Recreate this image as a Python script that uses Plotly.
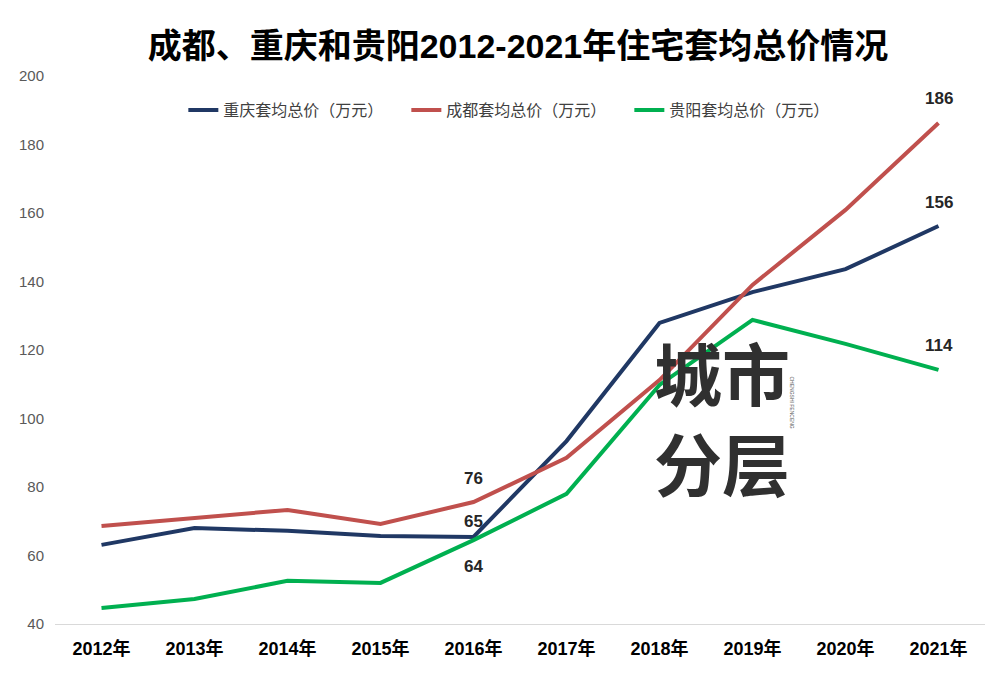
import plotly.graph_objects as go

# 数据
years = ["2012年", "2013年", "2014年", "2015年", "2016年",
         "2017年", "2018年", "2019年", "2020年", "2021年"]
chongqing = [63.1, 68.0, 67.2, 65.7, 65.4, 93.4, 127.9, 136.9, 143.6, 156.2]
chengdu = [68.6, 71.0, 73.3, 69.2, 75.6, 88.5, 111.2, 139.0, 160.9, 186.3]
guiyang = [44.7, 47.3, 52.6, 52.0, 64.5, 78.0, 109.8, 128.8, 121.8, 114.2]

series = [
    ("重庆套均总价（万元）", chongqing, "#203864"),
    ("成都套均总价（万元）", chengdu, "#C0504D"),
    ("贵阳套均总价（万元）", guiyang, "#00B050"),
]

FONT = "Liberation Sans, Noto Sans CJK SC, sans-serif"

fig = go.Figure()
for nome, vals, cor in series:
    fig.add_trace(go.Scatter(
        x=years, y=vals,
        mode="lines",
        name=nome,
        line=dict(color=cor, width=4),
    ))

# 数据标签（2016年与2021年）
label_idx = [4, 9]
shifts = {"重庆套均总价（万元）": {4: 16, 9: 24},
          "成都套均总价（万元）": {4: 24, 9: 24},
          "贵阳套均总价（万元）": {4: -26, 9: 24}}
for nome, vals, cor in series:
    for i in label_idx:
        fig.add_annotation(
            x=years[i], y=vals[i],
            text=f"{round(vals[i]):d}",
            showarrow=False,
            yshift=shifts[nome][i],
            font=dict(family=FONT, size=17, color="#262626", weight="bold"),
        )

# 水印
for txt, yy in [("城市", 0.460), ("分层", 0.296)]:
    fig.add_annotation(xref="paper", yref="paper", x=0.717, y=yy,
                       xanchor="center", yanchor="middle",
                       text=txt, showarrow=False,
                       font=dict(family="Noto Sans CJK SC", size=68,
                                 color="#303030", weight="bold"))
fig.add_annotation(xref="paper", yref="paper", x=0.792, y=0.405,
                   xanchor="center", yanchor="middle",
                   text="CHENGSHI FENCENG", showarrow=False, textangle=90,
                   font=dict(family=FONT, size=5, color="#555555"))

fig.update_layout(
    title=dict(
        text="成都、重庆和贵阳2012-2021年住宅套均总价情况",
        x=0.51, xanchor="center", y=0.944, yanchor="middle",
        font=dict(family=FONT, size=34, color="#000000", weight="bold"),
    ),
    width=1000, height=681,
    # 页面 body 有 8px 默认外边距，这里补偿
    margin=dict(l=47, r=23, t=68, b=65),
    plot_bgcolor="white",
    paper_bgcolor="white",
    showlegend=True,
    legend=dict(
        orientation="h",
        x=0.138, xanchor="left",
        y=0.938, yanchor="middle",
        font=dict(family=FONT, size=16, color="#404040"),
        bgcolor="rgba(0,0,0,0)",
        itemwidth=30,
        entrywidth=178,
        entrywidthmode="pixels",
    ),
    xaxis=dict(
        type="category",
        range=[-0.5, 9.5],
        showgrid=False,
        showline=True,
        linecolor="#D9D9D9",
        linewidth=1,
        ticks="",
        tickfont=dict(family=FONT, size=18, color="#000000", weight="bold"),
        ticklabelstandoff=8,
        automargin=False,
    ),
    yaxis=dict(
        range=[40, 200],
        dtick=20,
        showgrid=False,
        zeroline=False,
        ticks="",
        tickfont=dict(family=FONT, size=15, color="#595959"),
        ticklabelstandoff=10,
        automargin=False,
    ),
)

fig.write_html("out.html")
